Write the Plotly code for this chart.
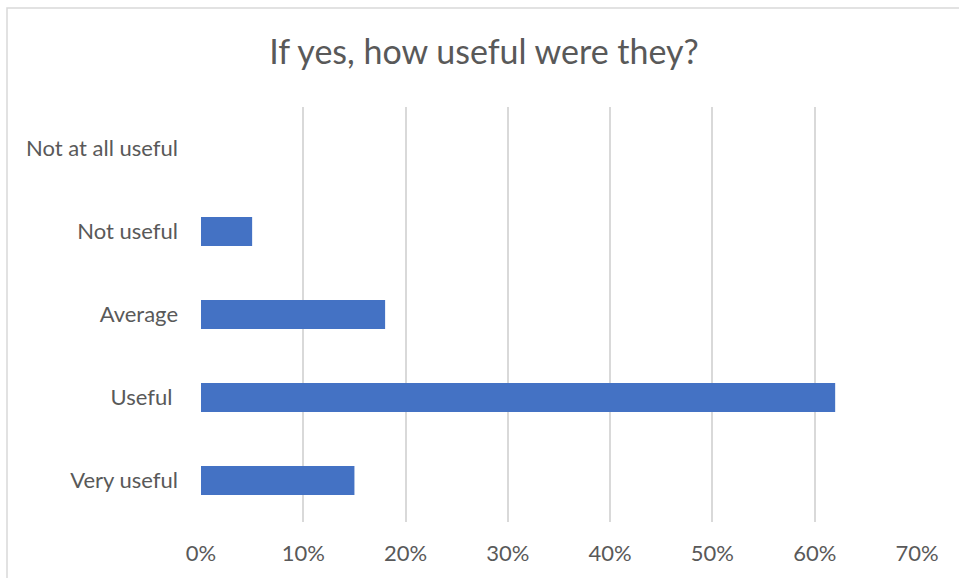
import plotly.graph_objects as go

# Survey responses (percent of respondents), listed bottom to top
categories = ["Very useful", "Useful ", "Average", "Not useful", "Not at all useful"]
shares = [15, 62, 18, 5, 0]

x_ticks = [0, 10, 20, 30, 40, 50, 60, 70]
x_tick_labels = [f"{v}%" for v in x_ticks]

title_text = "If yes, how useful were they?"

BAR_COLOR = "#4472C4"
GRID_COLOR = "#D9D9D9"
TEXT_COLOR = "#595959"
FONT = "Lato, 'Open Sans', sans-serif"

W, H = 959, 578
M_L, M_R, M_T, M_B = 201, 42, 107, 56

fig = go.Figure(
    go.Bar(
        x=shares,
        y=categories,
        orientation="h",
        marker=dict(color=BAR_COLOR, line=dict(width=0)),
        width=0.35,
        hoverinfo="skip",
    )
)

# outer chart-area frame (runs past the right and bottom edges of the page)
plot_w = W - M_L - M_R
plot_h = H - M_T - M_B
fig.add_shape(
    type="rect",
    xref="paper", yref="paper",
    x0=(7 - M_L) / plot_w, x1=(W + 5 - M_L) / plot_w,
    y0=(H - M_B - (H + 5)) / plot_h, y1=(H - M_B - 8) / plot_h,
    line=dict(color=GRID_COLOR, width=1.5),
    fillcolor="rgba(0,0,0,0)",
    layer="below",
)

fig.update_layout(
    width=W,
    height=H,
    margin=dict(l=M_L, r=M_R, t=M_T, b=M_B),
    paper_bgcolor="white",
    plot_bgcolor="white",
    showlegend=False,
    bargap=0.65,
    title=dict(
        text=title_text,
        x=484 / W,
        xanchor="center",
        xref="container",
        y=1 - 52 / H,
        yanchor="middle",
        yref="container",
        font=dict(family=FONT, size=34, color=TEXT_COLOR),
    ),
    xaxis=dict(
        range=[0, 70],
        tickvals=x_ticks,
        ticktext=x_tick_labels,
        showgrid=True,
        gridcolor=GRID_COLOR,
        gridwidth=1.5,
        zeroline=False,
        showline=False,
        ticks="",
        ticklabelstandoff=16,
        tickfont=dict(family=FONT, size=22, color=TEXT_COLOR),
        fixedrange=True,
    ),
    yaxis=dict(
        categoryorder="array",
        categoryarray=categories,
        showgrid=False,
        zeroline=False,
        showline=False,
        ticks="",
        ticklabelstandoff=22,
        tickfont=dict(family=FONT, size=22, color=TEXT_COLOR),
        fixedrange=True,
    ),
)

fig.write_html("out.html")
